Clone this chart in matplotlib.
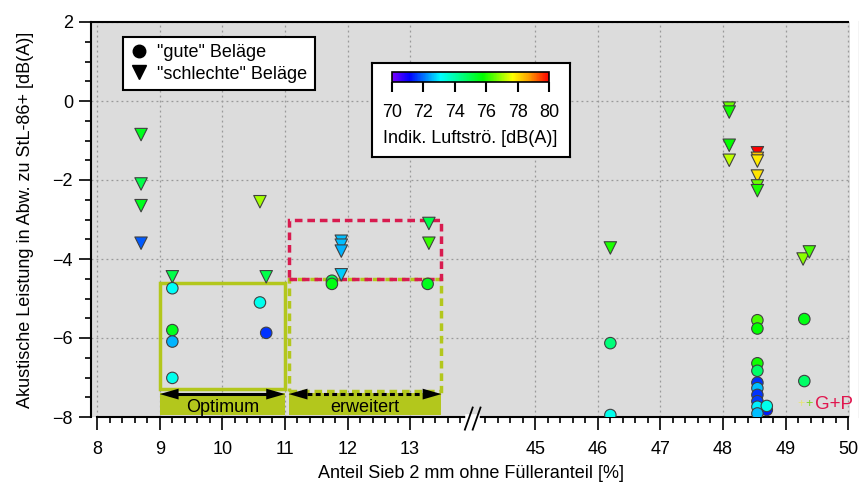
import numpy as np
import matplotlib
matplotlib.use("Agg")
import matplotlib.pyplot as plt
from matplotlib.colors import LinearSegmentedColormap, Normalize
from matplotlib.patches import Rectangle
from matplotlib.lines import Line2D
from matplotlib.cm import ScalarMappable
from matplotlib.ticker import FixedLocator

plt.rcParams['font.family'] = ['Liberation Sans', 'DejaVu Sans']

# "gute" Beläge (Kreise)
gute_x = [9.2, 9.2, 9.2, 9.2, 10.6, 10.7, 11.75, 11.75, 13.28,
          46.2, 46.2, 48.55, 48.55, 48.55, 48.55, 48.55, 48.55, 48.55, 48.55,
          48.7, 48.55, 48.7, 48.55, 49.3, 49.3]
gute_y = [-4.74, -5.8, -6.09, -7.01, -5.1, -5.87, -4.55, -4.63, -4.63,
          -6.13, -7.95, -5.55, -5.76, -6.64, -6.83, -7.13, -7.27, -7.44, -7.6,
          -7.82, -7.74, -7.72, -7.91, -5.52, -7.09]
gute_db = [73.2, 75.5, 72.5, 73.3, 73.3, 71.5, 75.0, 75.6, 75.5,
           74.5, 73.3, 76.3, 75.8, 75.9, 74.7, 71.5, 72.6, 71.5, 71.6,
           71.3, 73.0, 73.3, 72.6, 75.6, 74.7]

# "schlechte" Beläge (Dreiecke)
schlecht_x = [8.7, 8.7, 8.7, 8.7, 9.2, 10.6, 10.7, 11.9, 11.9, 11.9, 11.9, 13.3, 13.3,
              46.2, 48.1, 48.1, 48.1, 48.1, 48.55, 48.55, 48.55, 48.55, 48.55, 48.55,
              49.28, 49.38]
schlecht_y = [-0.85, -2.1, -2.65, -3.6, -4.45, -2.55, -4.45, -3.55, -3.65, -3.8, -4.4, -3.1, -3.6,
              -3.72, -0.18, -0.28, -1.12, -1.5, -1.31, -1.45, -1.52, -1.9, -2.15, -2.27,
              -4.0, -3.82]
schlecht_db = [75.5, 75.0, 75.5, 71.8, 75.0, 77.0, 75.0, 72.6, 72.6, 72.5, 72.7, 75.0, 76.2,
               76.0, 76.6, 75.9, 75.8, 77.2, 80.0, 78.3, 77.9, 78.0, 76.6, 76.0,
               76.8, 76.3]

x_major = [8, 9, 10, 11, 12, 13, 45, 46, 47, 48, 49, 50]
cb_ticks = [70, 72, 74, 76, 78, 80]

lime = '#b3c71c'
rot = '#d81b4f'

# Achsenbruch: 14 ... 44 wird ausgelassen
def vor(x):
    x = np.asarray(x, dtype=float)
    return np.where(x > 30, np.maximum(x - 30, 14), np.minimum(x, 14))

def zurueck(y):
    y = np.asarray(y, dtype=float)
    return np.where(y > 14, y + 30, y)

cmap = LinearSegmentedColormap.from_list('regenbogen', [
    (0.0, '#7a00ff'), (0.11, '#0000ff'), (0.31, '#00ffff'), (0.58, '#00ff00'),
    (0.77, '#ffff00'), (0.88, '#ff9900'), (1.0, '#ff0000')])
norm = Normalize(vmin=70, vmax=80)

fig = plt.figure(figsize=(8.59, 4.84), dpi=100)
ax = fig.add_axes([91/859, 1-417/484, 759/859, 395/484])
ax.set_facecolor('#dcdcdc')
ax.set_xscale('function', functions=(vor, zurueck))
ax.set_xlim(7.9, 50.03)
ax.set_ylim(-8, 2)

ax.xaxis.set_major_locator(FixedLocator(x_major))
ax.xaxis.set_minor_locator(FixedLocator(list(np.arange(8.2, 13.9, 0.2)) + list(np.arange(44.2, 50, 0.2))))
ax.set_xticklabels([str(v) for v in x_major])
ax.set_yticks(np.arange(-8, 2.1, 2))
ax.set_yticks(np.arange(-8, 2.1, 0.5), minor=True)
ax.tick_params(which='major', direction='out', length=9, width=1.2, labelsize=13)
ax.tick_params(which='minor', direction='out', length=4.5, width=1.2)
ax.tick_params(axis='x', which='major', pad=8)
ax.tick_params(axis='y', which='major', pad=4)
ax.grid(which='major', color='#999999', linestyle=(0, (1.5, 2.5)), linewidth=0.9)

for s in ax.spines.values():
    s.set_linewidth(1.5)
ax.spines['bottom'].set_bounds(8, 50)
ax.spines['top'].set_bounds(7.9, 50)
ax.spines['right'].set_position(('outward', 7))

# Achsenbruch-Zeichen
tr = ax.get_xaxis_transform()
ax.plot([13.93, 44.07], [0, 0], color='white', lw=4, transform=tr, clip_on=False, zorder=6)
for c in [13.94, 44.06]:
    ax.plot([c - 0.065, c + 0.065], [-0.032, 0.024], color='black', lw=1.3,
            transform=tr, clip_on=False, zorder=7)

# Bereiche
ax.add_patch(Rectangle((9, -7.28), 2, 2.68, fill=False, edgecolor=lime, lw=2.5, zorder=3))
ax.add_patch(Rectangle((11.06, -7.33), 2.44, 2.83, fill=False, edgecolor=lime, lw=2.5,
                       linestyle=(0, (2.2, 1.4)), zorder=3))
ax.add_patch(Rectangle((11.06, -4.5), 2.44, 1.5, fill=False, edgecolor=rot, lw=2.5,
                       linestyle=(0, (2.2, 1.4)), zorder=3))

ax.add_patch(Rectangle((9, -7.95), 2, 0.55, facecolor=lime, edgecolor='none', zorder=3))
ax.add_patch(Rectangle((11.06, -7.95), 2.44, 0.55, facecolor=lime, edgecolor='none', zorder=3))
ax.text(10, -7.76, 'Optimum', ha='center', va='center', fontsize=13, zorder=5)
ax.text(12.28, -7.76, 'erweitert', ha='center', va='center', fontsize=13, zorder=5)

kopf = dict(arrowstyle='-|>,head_length=0.45,head_width=0.13', color='black',
            lw=0, mutation_scale=30, shrinkA=0, shrinkB=0)
ax.plot([9.3, 10.7], [-7.42, -7.42], color='black', lw=2.2, zorder=5)
ax.plot([11.35, 13.2], [-7.42, -7.42], color='black', lw=2.2, linestyle=(0, (1.6, 1.1)), zorder=5)
for a, b in [(9.4, 9.0), (10.6, 11.0), (11.45, 11.06), (13.1, 13.5)]:
    ax.annotate('', xy=(b, -7.42), xytext=(a, -7.42), arrowprops=kopf, zorder=5)

# Messpunkte
ax.scatter(schlecht_x, schlecht_y, c=schlecht_db, cmap=cmap, norm=norm, marker='v', s=80,
           edgecolors='#404040', linewidths=0.8, zorder=4)
ax.scatter(gute_x, gute_y, c=gute_db, cmap=cmap, norm=norm, marker='o', s=68,
           edgecolors='#404040', linewidths=0.8, zorder=4)

ax.set_xlabel('Anteil Sieb 2 mm ohne Fülleranteil [%]', fontsize=13, labelpad=5)
ax.set_ylabel('Akustische Leistung in Abw. zu StL-86+ [dB(A)]', fontsize=13, labelpad=13)

griffe = [Line2D([], [], marker='o', color='black', ls='', markersize=9),
          Line2D([], [], marker='v', color='black', ls='', markersize=10)]
leg = ax.legend(griffe, ['"gute" Beläge', '"schlechte" Beläge'], loc='upper left',
                bbox_to_anchor=(0.042, 0.962), borderaxespad=0, fontsize=13,
                fancybox=False, framealpha=1, edgecolor='black', handlelength=1.0,
                handletextpad=0.5, labelspacing=0.25, borderpad=0.4)
leg.get_frame().set_linewidth(1.5)

# G+P Logo
ax.text(50.07, -7.68, 'G+P', color='#e0174f', fontsize=13.5, ha='right', va='center')
ax.text(49.24, -7.68, '+', color='#e6e67a', fontsize=9, ha='center', va='center')
ax.text(49.38, -7.68, '+', color='#7ed31b', fontsize=9, ha='center', va='center')

# Farbskala
rahmen = fig.add_axes([372/859, 1-157/484, 198/859, 94/484])
rahmen.set_facecolor('white')
rahmen.set_xticks([])
rahmen.set_yticks([])
for s in rahmen.spines.values():
    s.set_linewidth(1.5)
rahmen.set_zorder(5)

cax = fig.add_axes([392/859, 1-82/484, 157/859, 10/484])
cax.set_zorder(6)
cb = fig.colorbar(ScalarMappable(norm=norm, cmap=cmap), cax=cax, orientation='horizontal')
cb.set_ticks(cb_ticks)
cb.outline.set_linewidth(1.2)
cax.tick_params(direction='out', length=7, width=1.5, labelsize=13, pad=9)
cb.set_label('Indik. Luftströ. [dB(A)]', fontsize=13, labelpad=6)

fig.savefig('out.png', dpi=100)
